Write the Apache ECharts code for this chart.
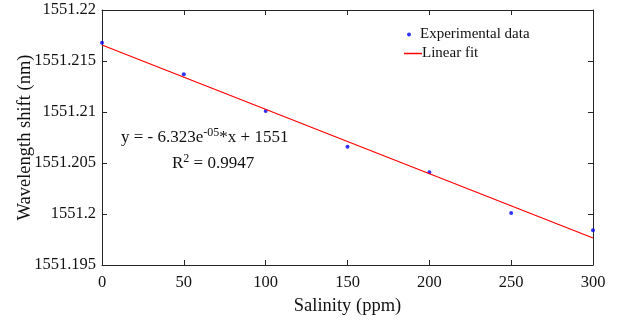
<!DOCTYPE html>
<html>
<head>
<meta charset="utf-8">
<script src="https://cdn.jsdelivr.net/npm/echarts@6/dist/echarts.min.js"></script>
<style>
  html, body { margin: 0; padding: 0; background: #fff; }
  #chart { width: 619px; height: 322px; }
</style>
</head>
<body>
<div id="chart"></div>
<script>
// salinity (ppm) and measured wavelength (nm)
var salinity = [0, 50, 100, 150, 200, 250, 300];
var wavelength = [1551.2168, 1551.2137, 1551.2101, 1551.2066, 1551.2041, 1551.2001, 1551.1984];
// linear fit end points
var fitX = [0, 300];
var fitY = [1551.21657, 1551.19765];

var font = 'Liberation Serif';
var axisColor = '#262626';

var chart = echarts.init(document.getElementById('chart'));

var pts = salinity.map(function (x, i) { return [x, wavelength[i]]; });
var fit = fitX.map(function (x, i) { return [x, fitY[i]]; });

var baseX = {
    type: 'value', min: 0, max: 300, interval: 50,
    axisLine: { show: true, onZero: false, lineStyle: { color: axisColor, width: 1 } },
    axisTick: { show: true, inside: true, length: 5, lineStyle: { color: axisColor } },
    splitLine: { show: false }
};
var baseY = {
    type: 'value', min: 1551.195, max: 1551.22, interval: 0.005,
    axisLine: { show: true, onZero: false, lineStyle: { color: axisColor, width: 1 } },
    axisTick: { show: true, inside: true, length: 5, lineStyle: { color: axisColor } },
    splitLine: { show: false }
};

var option = {
    animation: false,
    backgroundColor: '#fff',
    grid: { left: 102, right: 26, top: 10, bottom: 57, containLabel: false, outerBoundsMode: 'none' },
    xAxis: [
        Object.assign({}, baseX, {
            position: 'bottom',
            name: 'Salinity (ppm)', nameLocation: 'middle', nameGap: 32, nameMoveOverlap: false,
            nameTextStyle: { fontFamily: font, fontSize: 18.5, color: '#111' },
            axisLabel: { fontFamily: font, fontSize: 16.5, color: '#111', margin: 9 }
        }),
        Object.assign({}, baseX, { position: 'top', axisLabel: { show: false } })
    ],
    yAxis: [
        Object.assign({}, baseY, {
            position: 'left',
            name: 'Wavelength shift (nm)', nameLocation: 'middle', nameGap: 67, nameMoveOverlap: false,
            nameTextStyle: { fontFamily: font, fontSize: 18.5, color: '#111' },
            axisLabel: {
                fontFamily: font, fontSize: 16.5, color: '#111', margin: 6,
                formatter: function (v) { return String(parseFloat(v.toFixed(3))); }
            }
        }),
        Object.assign({}, baseY, { position: 'right', axisLabel: { show: false } })
    ],
    legend: [
        {
            data: [{ name: 'Experimental data', icon: 'circle' }],
            left: 402, top: 22, itemWidth: 4, itemHeight: 4, itemGap: 8,
            textStyle: { fontFamily: font, fontSize: 15, color: '#111', padding: [0, 0, 0, 4] }
        },
        {
            data: [{ name: 'Linear fit', icon: 'rect' }],
            left: 399, top: 41, itemWidth: 18, itemHeight: 1.5,
            textStyle: { fontFamily: font, fontSize: 15, color: '#111', padding: [0, 0, 0, -5] }
        }
    ],
    series: [
        {
            name: 'Linear fit', type: 'line', data: fit,
            xAxisIndex: 0, yAxisIndex: 0,
            showSymbol: false, symbol: 'none',
            lineStyle: { color: '#ff0000', width: 1.2 },
            itemStyle: { color: '#ff0000' }
        },
        {
            name: 'Experimental data', type: 'scatter', data: pts,
            xAxisIndex: 0, yAxisIndex: 0,
            symbol: 'circle', symbolSize: 4,
            itemStyle: { color: '#0000ff' }
        }
    ],
    graphic: [
        {
            type: 'text', left: 121, top: 127,
            style: {
                text: '{n|y = - 6.323e}{s|-05}{n|*x + 1551}',
                rich: {
                    n: { fontFamily: font, fontSize: 17, fill: '#111' },
                    s: { fontFamily: font, fontSize: 12, fill: '#111', verticalAlign: 'top', padding: [0, 0, 9, 0] }
                }
            }
        },
        {
            type: 'text', left: 172, top: 153,
            style: {
                text: '{n|R}{s|2}{n| = 0.9947}',
                rich: {
                    n: { fontFamily: font, fontSize: 17, fill: '#111' },
                    s: { fontFamily: font, fontSize: 12, fill: '#111', verticalAlign: 'top', padding: [0, 0, 9, 0] }
                }
            }
        }
    ]
};

chart.setOption(option);
</script>
</body>
</html>
